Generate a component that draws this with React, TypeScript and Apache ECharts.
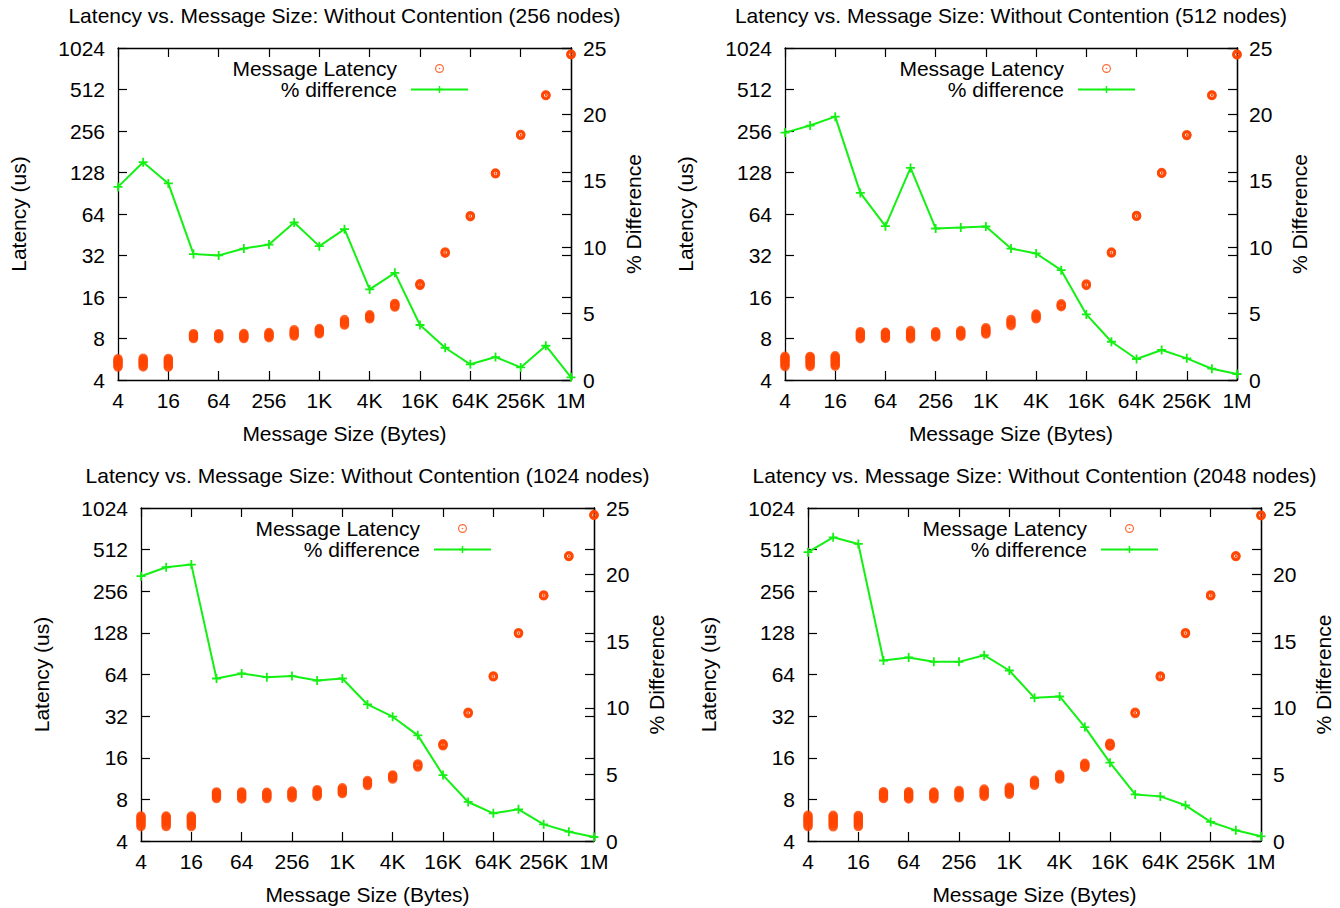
import React, { useEffect, useRef } from "react";
import * as echarts from "echarts";

// ---------- data ----------
const messageSizes = [4, 8, 16, 32, 64, 128, 256, 512, 1024, 2048, 4096, 8192, 16384, 32768, 65536, 131072, 262144, 524288, 1048576];
const sizeTickLabels = ["4", "16", "64", "256", "1K", "4K", "16K", "64K", "256K", "1M"];
const latencyTickLabels = ["4", "8", "16", "32", "64", "128", "256", "512", "1024"];
const nodeCounts = [256, 512, 1024, 2048];

// latency samples (us) per message size
const latency256 = [
  [4.96, 5.07, 5.18, 5.29, 5.37, 5.48, 5.59, 5.72],
  [4.97, 5.09, 5.2, 5.31, 5.4, 5.52, 5.63, 5.76],
  [4.95, 5.06, 5.19, 5.28, 5.41, 5.5, 5.62, 5.74],
  [7.98, 8.12, 8.27, 8.4, 8.55, 8.68],
  [7.97, 8.1, 8.26, 8.38, 8.53, 8.67],
  [7.99, 8.13, 8.25, 8.41, 8.56, 8.69],
  [8.1, 8.24, 8.38, 8.52, 8.69, 8.85],
  [8.32, 8.5, 8.66, 8.85, 9.05, 9.28],
  [8.64, 8.8, 8.98, 9.13, 9.3, 9.45],
  [10.0, 10.22, 10.45, 10.7, 10.98],
  [11.1, 11.3, 11.52, 11.7, 11.9],
  [13.5, 13.75, 13.98, 14.2, 14.38],
  [19.4, 19.6, 19.8, 20.0],
  [33.2, 33.6, 34.0],
  [61.2, 61.7, 62.3],
  [125.2, 126.1, 127.0],
  [238, 240, 242],
  [462, 465, 468],
  [915, 920, 925],
];
const latency512 = [
  [5.0, 5.12, 5.25, 5.37, 5.5, 5.6, 5.73, 5.84, 5.95],
  [5.01, 5.14, 5.26, 5.39, 5.5, 5.62, 5.75, 5.86, 5.94],
  [5.03, 5.15, 5.28, 5.4, 5.53, 5.65, 5.78, 5.9, 6.0],
  [7.96, 8.13, 8.3, 8.47, 8.63, 8.8, 8.97],
  [8.0, 8.16, 8.31, 8.47, 8.62, 8.76, 8.87],
  [7.96, 8.14, 8.33, 8.52, 8.7, 8.92, 9.15],
  [8.2, 8.35, 8.5, 8.63, 8.8, 8.95],
  [8.3, 8.46, 8.63, 8.8, 8.98, 9.15],
  [8.6, 8.78, 8.97, 9.18, 9.38, 9.6],
  [9.9, 10.15, 10.42, 10.7, 11.0],
  [11.1, 11.33, 11.56, 11.8, 12.03],
  [13.6, 13.8, 14.02, 14.3],
  [19.4, 19.62, 19.9],
  [33.3, 33.6, 33.9],
  [61.5, 62, 62.5],
  [126, 127, 128],
  [237, 239, 241],
  [462, 465, 468],
  [912, 918, 924],
];
const latency1024 = [
  [5.07, 5.2, 5.33, 5.46, 5.58, 5.7, 5.83, 5.96, 6.08],
  [5.08, 5.21, 5.35, 5.47, 5.6, 5.72, 5.85, 5.97, 6.07],
  [5.07, 5.19, 5.32, 5.45, 5.59, 5.71, 5.84, 5.95, 6.06],
  [8.11, 8.28, 8.45, 8.6, 8.76, 8.92, 9.07],
  [8.05, 8.22, 8.4, 8.57, 8.73, 8.9, 9.06],
  [8.1, 8.26, 8.42, 8.57, 8.72, 8.87, 9.0],
  [8.2, 8.37, 8.53, 8.7, 8.87, 9.03, 9.2],
  [8.4, 8.56, 8.73, 8.9, 9.06, 9.23, 9.4],
  [8.8, 8.97, 9.15, 9.33, 9.52, 9.7],
  [10.07, 10.3, 10.52, 10.74, 10.95],
  [11.2, 11.42, 11.63, 11.83, 12.03],
  [13.7, 13.93, 14.2, 14.45],
  [19.5, 19.75, 20.0, 20.2],
  [33.4, 33.8, 34.2],
  [61.5, 62, 62.5],
  [126.5, 127.5, 128.5],
  [237, 239, 241],
  [456, 459, 462],
  [905, 912, 918],
];
const latency2048 = [
  [5.07, 5.2, 5.34, 5.48, 5.6, 5.73, 5.86, 6.0, 6.15],
  [5.06, 5.19, 5.33, 5.46, 5.6, 5.74, 5.87, 6.01, 6.14],
  [5.08, 5.21, 5.35, 5.48, 5.61, 5.75, 5.88, 6.02, 6.13],
  [8.1, 8.27, 8.43, 8.6, 8.77, 8.93, 9.1],
  [8.05, 8.22, 8.4, 8.58, 8.75, 8.93, 9.1],
  [8.07, 8.24, 8.41, 8.58, 8.74, 8.9, 9.05],
  [8.2, 8.38, 8.56, 8.74, 8.92, 9.1, 9.3],
  [8.4, 8.57, 8.75, 8.93, 9.12, 9.3, 9.5],
  [8.7, 8.88, 9.07, 9.26, 9.45, 9.63, 9.8],
  [10.1, 10.32, 10.54, 10.77, 11.0],
  [11.2, 11.43, 11.66, 11.88, 12.1],
  [13.6, 13.85, 14.1, 14.35, 14.6],
  [19.4, 19.65, 19.9, 20.15, 20.4],
  [33.4, 33.8, 34.2],
  [61.5, 62, 62.5],
  [126.5, 127.5, 128.5],
  [237, 239, 241],
  [456, 459, 462],
  [900, 905, 910],
];

// % difference per message size
const diff256 = [14.54, 16.4, 14.8, 9.48, 9.38, 9.9, 10.2, 11.86, 10.08, 11.36, 6.82, 8.07, 4.14, 2.43, 1.18, 1.73, 0.95, 2.58, 0.2];
const diff512 = [18.63, 19.16, 19.83, 14.09, 11.58, 15.97, 11.41, 11.48, 11.56, 9.9, 9.53, 8.27, 4.94, 2.88, 1.58, 2.26, 1.63, 0.85, 0.45];
const diff1024 = [19.88, 20.55, 20.75, 12.2, 12.58, 12.3, 12.38, 12.05, 12.2, 10.25, 9.33, 7.93, 4.95, 2.93, 2.08, 2.38, 1.25, 0.7, 0.3];
const diff2048 = [21.68, 22.8, 22.3, 13.55, 13.78, 13.45, 13.45, 13.95, 12.8, 10.75, 10.85, 8.55, 5.88, 3.5, 3.35, 2.68, 1.43, 0.8, 0.35];

const latencyByPanel = [latency256, latency512, latency1024, latency2048];
const diffByPanel = [diff256, diff512, diff1024, diff2048];

// ---------- layout / style ----------
const panels = [
  { left: 118, top: 48, width: 453, height: 332 },
  { left: 785, top: 48, width: 452, height: 332 },
  { left: 141, top: 508, width: 453, height: 333 },
  { left: 808, top: 508, width: 453, height: 333 },
];
const FONT = "'Liberation Sans', Arial, Helvetica, sans-serif";
const FS = 21;
const ORANGE = "#ff4500";
const GREEN = "#14f014";
// thick ring with a small centre dot (gnuplot's circle-dot point)
const ringSymbol =
  "path://M0,-4.7A4.7,4.7,0,1,0,0,4.7A4.7,4.7,0,1,0,0,-4.7ZM0,-2A2,2,0,1,1,0,2A2,2,0,1,1,0,-2ZM0,-0.9A0.9,0.9,0,1,0,0,0.9A0.9,0.9,0,1,0,0,-0.9Z";
const legendRingSymbol =
  "path://M0,-4.5A4.5,4.5,0,1,0,0,4.5A4.5,4.5,0,1,0,0,-4.5ZM0,-3.3A3.3,3.3,0,1,1,0,3.3A3.3,3.3,0,1,1,0,-3.3ZM0,-0.8A0.8,0.8,0,1,0,0,0.8A0.8,0.8,0,1,0,0,-0.8Z";
const plusSymbol = "path://M-0.9,-4.5H0.9V-0.9H4.5V0.9H0.9V4.5H-0.9V0.9H-4.5V-0.9H-0.9Z";

const axisLine = { show: true, onZero: false, lineStyle: { color: "#000", width: 1.3 } };
const axisTick = { show: true, inside: true, length: 9, lineStyle: { color: "#000", width: 1.2 } };
const textBase = { color: "#000", fontSize: FS, fontFamily: FONT };

function buildOption() {
  const grid: any[] = [];
  const xAxis: any[] = [];
  const yAxis: any[] = [];
  const series: any[] = [];
  const title: any[] = [];
  const legend: any[] = [];

  panels.forEach((g, p) => {
    grid.push({ left: g.left, top: g.top, width: g.width, height: g.height, containLabel: false });
    title.push({
      text: `Latency vs. Message Size: Without Contention (${nodeCounts[p]} nodes)`,
      left: g.left + g.width / 2,
      top: g.top - 43,
      textAlign: "center",
      padding: 0,
      textStyle: { ...textBase, fontWeight: "normal" },
    });
    legend.push({
      orient: "vertical",
      align: "right",
      right: 1340 - (g.left + 351),
      top: g.top + 10,
      padding: 0,
      itemWidth: 57,
      itemHeight: 9,
      itemGap: 0,
      selectedMode: false,
      textStyle: { ...textBase, padding: [0, 9, 0, 0] },
      data: [{ name: "Message Latency", icon: legendRingSymbol }, { name: "% difference" }],
    });
    xAxis.push({
      type: "value",
      gridIndex: p,
      position: "bottom",
      min: 2,
      max: 20,
      interval: 2,
      axisLine,
      axisTick,
      splitLine: { show: false },
      axisLabel: {
        ...textBase,
        margin: 10,
        formatter: (v: number) => sizeTickLabels[Math.round((v - 2) / 2)] ?? "",
      },
      name: "Message Size (Bytes)",
      nameLocation: "middle",
      nameGap: 43,
      nameTextStyle: textBase,
    });
    xAxis.push({
      type: "value",
      gridIndex: p,
      position: "top",
      min: 2,
      max: 20,
      interval: 2,
      axisLine,
      axisTick,
      splitLine: { show: false },
      axisLabel: { show: false },
    });
    yAxis.push({
      type: "value",
      gridIndex: p,
      position: "left",
      min: 2,
      max: 10,
      interval: 1,
      axisLine,
      axisTick,
      splitLine: { show: false },
      axisLabel: {
        ...textBase,
        margin: 13,
        formatter: (v: number) => latencyTickLabels[Math.round(v - 2)] ?? "",
      },
      name: "Latency (us)",
      nameLocation: "middle",
      nameGap: 89,
      nameTextStyle: textBase,
    });
    yAxis.push({
      type: "value",
      gridIndex: p,
      position: "right",
      min: 0,
      max: 25,
      interval: 5,
      axisLine,
      axisTick,
      splitLine: { show: false },
      axisLabel: { ...textBase, margin: 12 },
      name: "% Difference",
      nameLocation: "middle",
      nameGap: 52,
      nameTextStyle: textBase,
    });
    yAxis.push({
      type: "value",
      gridIndex: p,
      position: "right",
      min: 2,
      max: 10,
      interval: 1,
      axisLine,
      axisTick,
      splitLine: { show: false },
      axisLabel: { show: false },
    });

    const lat = latencyByPanel[p];
    const scatterData: number[][] = [];
    lat.forEach((samples, i) => {
      samples.forEach((v) => scatterData.push([Math.log2(messageSizes[i]), Math.log2(v)]));
    });
    series.push({
      type: "scatter",
      name: "Message Latency",
      xAxisIndex: 2 * p,
      yAxisIndex: 3 * p,
      symbol: ringSymbol,
      symbolSize: 9.4,
      itemStyle: { color: ORANGE },
      clip: false,
      z: 2,
      data: scatterData,
    });
    series.push({
      type: "line",
      name: "% difference",
      xAxisIndex: 2 * p,
      yAxisIndex: 3 * p + 1,
      symbol: plusSymbol,
      symbolSize: 9,
      showSymbol: true,
      lineStyle: { color: GREEN, width: 2 },
      itemStyle: { color: GREEN },
      clip: false,
      z: 3,
      data: diffByPanel[p].map((v, i) => [Math.log2(messageSizes[i]), v]),
    });
  });

  return {
    animation: false,
    backgroundColor: "#fff",
    textStyle: { fontFamily: FONT },
    title,
    legend,
    grid,
    xAxis,
    yAxis,
    series,
  };
}

export default function App() {
  const ref = useRef<HTMLDivElement>(null);
  useEffect(() => {
    if (!ref.current) return;
    const chart = echarts.init(ref.current, null, { renderer: "svg" });
    chart.setOption(buildOption() as any);
    return () => chart.dispose();
  }, []);
  return (
    <div
      ref={ref}
      style={{ position: "absolute", left: 0, top: 0, width: 1340, height: 908, background: "#fff" }}
    />
  );
}
